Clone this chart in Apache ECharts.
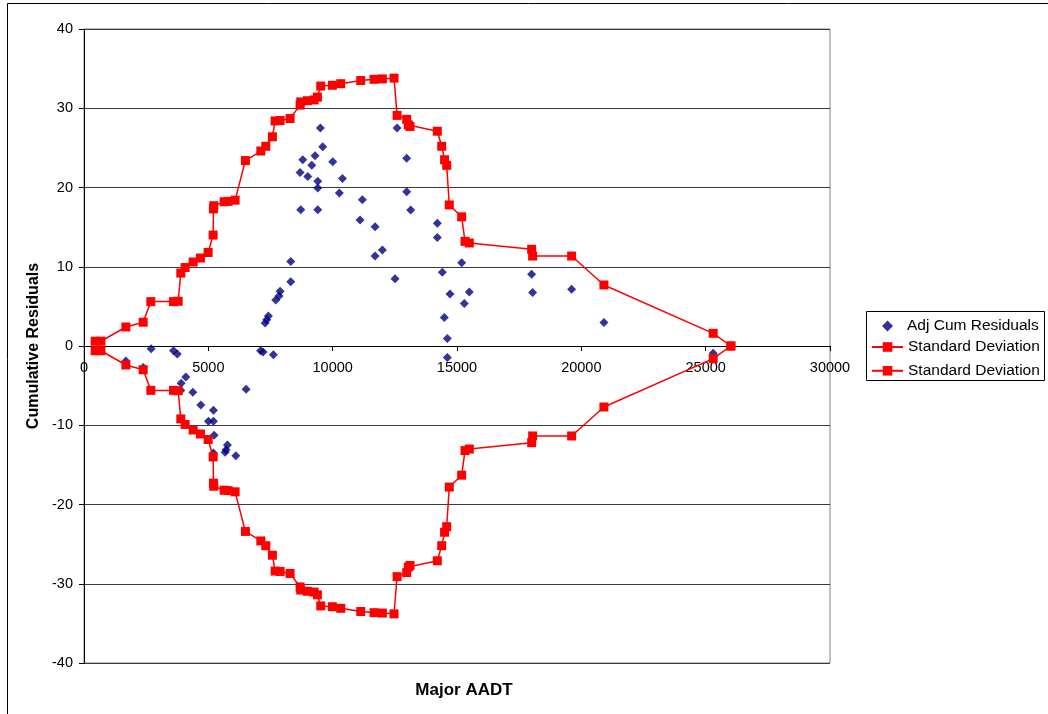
<!DOCTYPE html>
<html>
<head>
<meta charset="utf-8">
<title>Cumulative Residuals vs Major AADT</title>
<script src="https://cdn.jsdelivr.net/npm/echarts@6/dist/echarts.min.js"></script>
<style>
  html, body { margin: 0; padding: 0; background: #fff; }
  #chart { width: 1048px; height: 714px; }
</style>
</head>
<body>
<div id="chart"></div>
<script>
// Adjusted cumulative residuals, one point per site: Major AADT and residual
const residualAADT = [
  1684, 2380, 2700, 3600, 3750, 3893, 3907, 4094, 4377, 4697,
  5005, 5205, 5205, 5205, 5233, 5675, 5715, 5768, 6104, 6520,
  7100, 7200, 7283, 7350, 7416, 7617, 7712, 7845, 7886, 8315,
  8315, 8690, 8716, 8797, 8999, 9159, 9292, 9401, 9401, 9401,
  9505, 9600, 10004, 10270, 10392, 11102, 11194, 11704, 11704, 11999,
  12508, 12590, 12977, 12977, 13138, 14208, 14208, 14409, 14489, 14610,
  14610, 14718, 15188, 15293, 15495, 18002, 18042, 19610, 20908, 25302
];
const residualValues = [
  -1.9, -2.7, -0.35, -0.6, -1.0, -5.6, -4.7, -3.9, -5.85, -7.45,
  -9.5, -8.1, -9.5, -13.5, -11.25, -13.4, -13.1, -12.5, -13.85, -5.45,
  -0.6, -0.75, 2.9, 3.3, 3.8, -1.1, 5.8, 6.3, 6.9, 8.1,
  10.65, 21.9, 17.2, 23.5, 21.4, 22.8, 24.0, 17.2, 20.8, 19.95,
  27.5, 25.15, 23.25, 19.3, 21.15, 15.9, 18.45, 15.05, 11.35, 12.1,
  8.5, 27.5, 23.7, 19.45, 17.15, 15.5, 13.7, 9.3, 3.6, 0.95,
  -1.45, 6.55, 10.5, 5.35, 6.8, 9.05, 6.75, 7.15, 2.95, -0.9
];

// Standard deviation envelope (upper bound; the lower bound mirrors it)
const sdAADT = [
  450, 680, 1684, 2380, 2688, 3600, 3786, 3893, 4067, 4389,
  4683, 4992, 5193, 5205, 5220, 5635, 5796, 6077, 6491, 7110,
  7311, 7577, 7685, 7886, 8288, 8690, 8716, 8984, 9252, 9386,
  9520, 9989, 10325, 11129, 11664, 11999, 12468, 12590, 12977, 13044,
  13111, 14208, 14385, 14500, 14585, 14690, 15188, 15322, 15495, 18002,
  18042, 19610, 20908, 25302, 26013
];
const sdValues = [
  0.6, 0.6, 2.4, 3.0, 5.6, 5.6, 5.65, 9.2, 9.9, 10.6,
  11.1, 11.8, 14.0, 17.3, 17.7, 18.2, 18.25, 18.4, 23.4, 24.6,
  25.2, 26.4, 28.4, 28.45, 28.7, 30.4, 30.8, 30.95, 31.05, 31.4,
  32.8, 32.9, 33.1, 33.5, 33.65, 33.7, 33.8, 29.1, 28.6, 27.9,
  27.7, 27.1, 25.2, 23.5, 22.8, 17.8, 16.3, 13.2, 13.0, 12.2,
  11.35, 11.35, 7.7, 1.6, 0
];

const xTicks = { min: 0, max: 30000, interval: 5000 };
const yTicks = { min: -40, max: 40, interval: 10 };

const FONT = 'Liberation Sans, Arial, sans-serif';

// plot area in pixels
const GRID = { left: 84, right: 218, top: 29, bottom: 51 };
const plotHeight = 714 - GRID.top - GRID.bottom;

const residualPoints = residualAADT.map((x, i) => [x, residualValues[i]]);
const sdUpper = sdAADT.map((x, i) => [x, sdValues[i]]);
const sdLower = sdAADT.map((x, i) => [x, -sdValues[i]]);

const chart = echarts.init(document.getElementById('chart'), null, { renderer: 'canvas' });

const sdLine = (name, data) => ({
  name: name,
  type: 'line',
  data: data,
  symbol: 'rect',
  symbolSize: 9,
  showSymbol: true,
  lineStyle: { color: '#ff0000', width: 1.5 },
  itemStyle: { color: '#ff0000' },
  animation: false,
  z: 3
});

const plainNumber = (v) => String(v);

chart.setOption({
  backgroundColor: '#ffffff',
  animation: false,
  grid: Object.assign({
    show: true, borderColor: '#808080', borderWidth: 1, backgroundColor: '#ffffff'
  }, GRID),
  xAxis: {
    type: 'value',
    min: xTicks.min, max: xTicks.max, interval: xTicks.interval,
    // the horizontal axis crosses at zero, halfway up the plot
    offset: -(plotHeight / 2),
    axisLine: { show: true, onZero: false, lineStyle: { color: '#000', width: 1 } },
    axisTick: { show: true, inside: false, length: 5, lineStyle: { color: '#000' } },
    axisLabel: { color: '#000', fontFamily: FONT, fontSize: 14.5, margin: 14, formatter: plainNumber },
    splitLine: { show: false }
  },
  yAxis: {
    type: 'value',
    min: yTicks.min, max: yTicks.max, interval: yTicks.interval,
    name: 'Cumulative Residuals',
    nameLocation: 'middle',
    nameRotate: 90,
    nameGap: 42,
    nameTextStyle: { color: '#000', fontFamily: FONT, fontSize: 16, fontWeight: 'bold' },
    axisLine: { show: true, onZero: false, lineStyle: { color: '#000', width: 1 } },
    axisTick: { show: true, inside: false, length: 5, lineStyle: { color: '#000' } },
    axisLabel: { color: '#000', fontFamily: FONT, fontSize: 14.5, margin: 11, formatter: plainNumber },
    splitLine: { show: true, lineStyle: { color: '#3a3a3a', width: 1 } }
  },
  legend: [
    {
      data: ['Adj Cum Residuals'],
      left: 882, top: 318,
      itemWidth: 11, itemHeight: 11, padding: 0, itemGap: 0,
      selectedMode: false,
      textStyle: { color: '#000', fontFamily: FONT, fontSize: 15.5, padding: [0, 0, 0, 9] }
    },
    {
      data: ['Standard Deviation', 'Standard Deviation '],
      orient: 'vertical',
      left: 871, top: 339,
      itemWidth: 31, itemHeight: 12, padding: 0, itemGap: 7.8,
      selectedMode: false,
      textStyle: { color: '#000', fontFamily: FONT, fontSize: 15.5 }
    }
  ],
  graphic: [
    {
      type: 'rect', silent: true, z: -10,
      shape: { x: 7.5, y: 3.5, width: 1100, height: 800 },
      style: { fill: 'none', stroke: '#000', lineWidth: 1 }
    },
    {
      type: 'rect', silent: true, z: 1,
      shape: { x: 866.5, y: 311.5, width: 178, height: 69 },
      style: { fill: '#fff', stroke: '#000', lineWidth: 1 }
    },
    {
      type: 'text', silent: true,
      x: 464, y: 690,
      style: {
        text: 'Major AADT', fill: '#000',
        font: 'bold 17px ' + FONT,
        align: 'center', verticalAlign: 'middle'
      }
    }
  ],
  series: [
    {
      name: 'Adj Cum Residuals',
      type: 'scatter',
      data: residualPoints,
      symbol: 'diamond',
      symbolSize: 9,
      itemStyle: { color: '#000080' },
      animation: false,
      z: 2
    },
    sdLine('Standard Deviation', sdUpper),
    sdLine('Standard Deviation ', sdLower)
  ]
});
</script>
</body>
</html>
